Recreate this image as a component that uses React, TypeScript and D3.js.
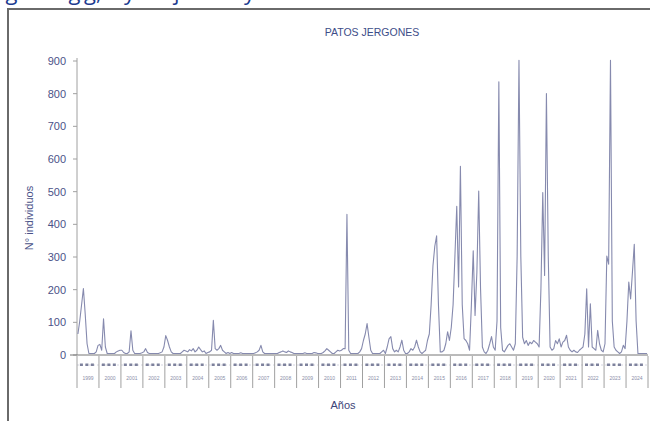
import React from "react";
import * as d3 from "d3";

const years: number[] = [1999,2000,2001,2002,2003,2004,2005,2006,2007,2008,2009,2010,2011,2012,2013,2014,2015,2016,2017,2018,2019,2020,2021,2022,2023,2024];
const yTicks: number[] = [0,100,200,300,400,500,600,700,800,900];

// monthly counts per year (12 values each)
const v1999 = [60,100,150,200,120,30,0,0,0,0,5,25];
const v2000 = [28,10,107,20,0,0,0,0,0,5,8,10];
const v2001 = [10,3,0,0,5,70,10,0,0,0,0,2];
const v2002 = [5,15,3,0,0,0,0,0,0,2,5,20];
const v2003 = [55,40,20,5,0,0,0,0,0,5,10,8];
const v2004 = [5,12,8,15,5,10,20,12,5,8,0,3];
const v2005 = [5,10,102,15,10,15,25,10,5,0,3,0];
const v2006 = [3,0,0,0,0,2,0,0,0,0,0,0];
const v2007 = [0,2,5,10,25,5,0,0,0,0,0,0];
const v2008 = [0,0,3,5,8,5,3,8,5,3,0,0];
const v2009 = [0,0,0,0,2,0,0,0,0,3,2,0];
const v2010 = [0,0,3,8,15,10,5,0,0,5,10,8];
const v2011 = [10,15,15,428,10,0,0,0,0,0,5,15];
const v2012 = [40,60,92,50,10,0,0,0,0,0,5,10];
const v2013 = [0,20,45,52,15,5,10,5,20,41,10,0];
const v2014 = [0,5,15,10,20,41,20,5,0,5,10,40];
const v2015 = [60,150,270,330,362,150,5,5,10,30,67,40];
const v2016 = [80,150,300,453,205,576,150,46,40,30,10,150];
const v2017 = [316,117,250,500,200,20,5,0,10,30,52,20];
const v2018 = [10,100,836,80,10,5,15,25,30,20,10,30];
const v2019 = [300,902,300,50,30,40,25,35,30,40,35,30];
const v2020 = [20,200,495,240,800,300,20,10,15,40,30,45];
const v2021 = [20,35,40,56,20,10,5,10,5,3,10,15];
const v2022 = [20,60,199,20,153,20,15,10,71,30,10,5];
const v2023 = [30,300,275,902,100,20,10,5,0,5,25,15];
const v2024 = [100,220,168,250,336,100,0,0,0,0,0,0];

const series: number[] = [
  ...v1999, ...v2000, ...v2001, ...v2002, ...v2003, ...v2004, ...v2005, ...v2006,
  ...v2007, ...v2008, ...v2009, ...v2010, ...v2011, ...v2012, ...v2013, ...v2014,
  ...v2015, ...v2016, ...v2017, ...v2018, ...v2019, ...v2020, ...v2021, ...v2022,
  ...v2023, ...v2024,
];

const topFragments: { t: string; x: number }[] = [
  { t: "ig", x: 0 },
  { t: "ng", x: 55 },
  { t: "g,", x: 84 },
  { t: "y", x: 124 },
  { t: "j", x: 174 },
  { t: "y", x: 244 },
];

export default function App() {
  const W = 650, H = 421;
  const x0 = 77, x1 = 648;
  const yBase = 355, yTop = 61;
  const nMonths = years.length * 12;
  const x = d3.scaleLinear().domain([0, nMonths]).range([x0, x1]);
  const y = d3.scaleLinear().domain([0, 900]).range([yBase - 1.5, yTop]);
  const yAxisScale = d3.scaleLinear().domain([0, 900]).range([yBase, yTop]);
  const line = d3.line<number>().x((_, i) => x(i + 0.5)).y((d) => y(d));
  const path = line(series) || "";
  const labelColor = "#4b5288";
  const font = "Liberation Sans, Arial, sans-serif";

  return (
    <svg width={W} height={H} style={{ position: "absolute", left: 0, top: 0, background: "#fff" }}>
      {topFragments.map((f, i) => (
        <text key={i} x={f.x} y={0} fontFamily="Open Sans, sans-serif" fontSize={22} fill="#1d3b8f">{f.t}</text>
      ))}
      {/* frame */}
      <line x1={7} x2={W} y1={9} y2={9} stroke="#6a6a6a" strokeWidth={2} />
      <line x1={8} x2={8} y1={9} y2={H} stroke="#6a6a6a" strokeWidth={2} />
      <text x={372} y={36} textAnchor="middle" fontFamily={font} fontSize={10.5} fill="#3d4d88">PATOS JERGONES</text>

      {/* y axis */}
      <line x1={x0} x2={x0} y1={58} y2={yBase} stroke="#a0a0a0" strokeWidth={1} />
      {yTicks.map((t) => (
        <g key={t}>
          <line x1={x0 - 4} x2={x0} y1={yAxisScale(t)} y2={yAxisScale(t)} stroke="#a0a0a0" />
          <text x={66} y={yAxisScale(t) + 4} textAnchor="end" fontFamily={font} fontSize={11} fill={labelColor}>{t}</text>
        </g>
      ))}
      <text transform={`translate(33,218) rotate(-90)`} textAnchor="middle" fontFamily={font} fontSize={11} fill={labelColor}>N° individuos</text>

      {/* x axis */}
      <line x1={70} x2={x1} y1={yBase} y2={yBase} stroke="#777" strokeWidth={1} />
      <line x1={x0} x2={x1} y1={365} y2={365} stroke="#d4d5e0" strokeDasharray="2,2" />
      {years.map((yr, k) => {
        const a = x(k * 12), b = x((k + 1) * 12);
        return (
          <g key={yr}>
            <line x1={b} x2={b} y1={356} y2={388} stroke="#a0a0a0" />
            {[0.2, 0.45, 0.7].map((f, j) => (
              <rect key={j} x={a + (b - a) * f - 1.5} y={363.5} width={3} height={2.5} fill="#7d819c" />
            ))}
            <text x={(a + b) / 2} y={380} textAnchor="middle" fontFamily={font} fontSize={5} fill="#8a8ea8">{yr}</text>
          </g>
        );
      })}
      <line x1={x0} x2={x0} y1={356} y2={388} stroke="#a0a0a0" />
      <text x={343} y={409} textAnchor="middle" fontFamily={font} fontSize={11} fill="#3d4478">Años</text>

      {/* series */}
      <path d={path} fill="none" stroke="#868aae" strokeWidth={1.1} strokeLinejoin="round" />
    </svg>
  );
}
